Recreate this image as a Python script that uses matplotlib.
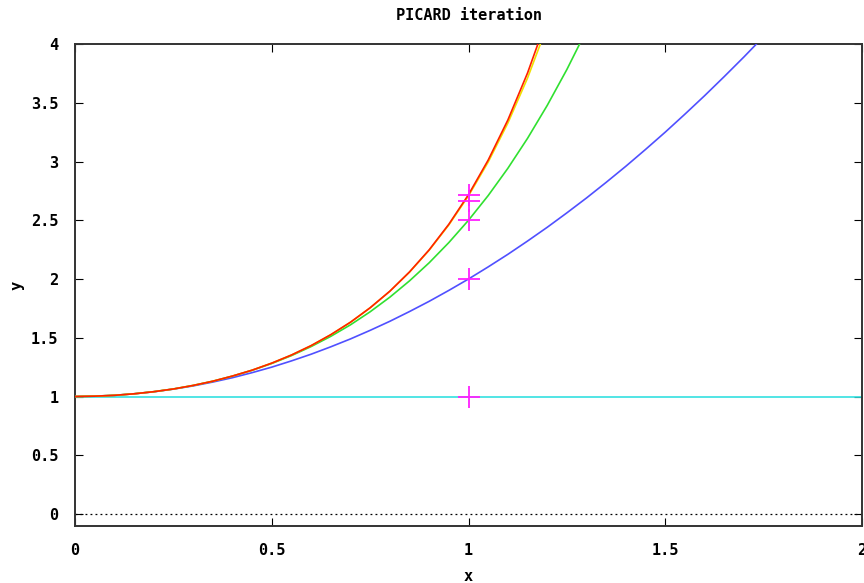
import matplotlib
matplotlib.use("Agg")
import matplotlib.pyplot as plt

# sample positions (x) and the curve values
x = [0.00, 0.05, 0.10, 0.15, 0.20, 0.25, 0.30, 0.35, 0.40, 0.45,
     0.50, 0.55, 0.60, 0.65, 0.70, 0.75, 0.80, 0.85, 0.90, 0.95,
     1.00, 1.05, 1.10, 1.15, 1.20, 1.25, 1.30, 1.35, 1.40, 1.45,
     1.50, 1.55, 1.60, 1.65, 1.70, 1.75]

iter0_x = [0.0, 2.0]
iter0_y = [1.0, 1.0]

iter1_y = [1.000, 1.003, 1.010, 1.023, 1.040, 1.063, 1.090, 1.123, 1.160, 1.203,
           1.250, 1.303, 1.360, 1.423, 1.490, 1.563, 1.640, 1.723, 1.810, 1.903,
           2.000, 2.103, 2.210, 2.323, 2.440, 2.563, 2.690, 2.823, 2.960, 3.103,
           3.250, 3.403, 3.560, 3.723, 3.890, 4.063]

iter2_y = [1.000, 1.003, 1.010, 1.023, 1.041, 1.064, 1.094, 1.130, 1.173, 1.223,
           1.281, 1.348, 1.425, 1.512, 1.610, 1.721, 1.845, 1.984, 2.138, 2.310,
           2.500, 2.710, 2.942, 3.197, 3.477, 3.783, 4.118]

iter3_y = [1.000, 1.003, 1.010, 1.023, 1.041, 1.064, 1.094, 1.130, 1.174, 1.224,
           1.284, 1.353, 1.433, 1.526, 1.632, 1.755, 1.895, 2.058, 2.245, 2.460,
           2.708, 2.995, 3.327, 3.710, 4.154]

iter4_y = [1.000, 1.003, 1.010, 1.023, 1.041, 1.064, 1.094, 1.130, 1.174, 1.224,
           1.284, 1.353, 1.433, 1.526, 1.632, 1.755, 1.896, 2.060, 2.248, 2.466,
           2.718, 3.012, 3.353, 3.753, 4.221]

marker_x = [1.0, 1.0, 1.0, 1.0, 1.0]
marker_y = [1.0, 2.0, 2.5, 2.667, 2.718]

x_ticks = [0, 0.5, 1, 1.5, 2]
x_tick_labels = ["0", "0.5", "1", "1.5", "2"]
y_ticks = [0, 0.5, 1, 1.5, 2, 2.5, 3, 3.5, 4]
y_tick_labels = ["0", "0.5", "1", "1.5", "2", "2.5", "3", "3.5", "4"]

font = {"family": "DejaVu Sans Mono", "weight": "bold", "size": 11}

fig = plt.figure(figsize=(8.64, 5.83), dpi=100)
ax = fig.add_axes([75/864, 1 - 526/583, (862 - 75)/864, (526 - 44)/583])

ax.axhline(0, color="black", lw=0.9, ls=(0, (1.5, 2.5)), zorder=1)

ax.plot(iter0_x, iter0_y, color="#33e0e0", lw=1.2, zorder=2)
ax.plot(x[:len(iter1_y)], iter1_y, color="#5050ff", lw=1.2, zorder=3)
ax.plot(x[:len(iter2_y)], iter2_y, color="#30e030", lw=1.2, zorder=4)
ax.plot(x[:len(iter3_y)], iter3_y, color="#f0e000", lw=1.2, zorder=5)
ax.plot(x[:len(iter4_y)], iter4_y, color="#ff2000", lw=1.2, zorder=6)
ax.plot(marker_x, marker_y, ls="none", marker="+", ms=16, mew=1.3,
        color="#ff20ff", zorder=7)

ax.set_xlim(0, 2)
ax.set_ylim(-0.102, 4)
ax.set_xticks(x_ticks)
ax.set_xticklabels(x_tick_labels, fontdict=font)
ax.set_yticks(y_ticks)
ax.set_yticklabels(y_tick_labels, fontdict=font)
ax.tick_params(direction="in", length=6, width=0.8, top=True, right=True,
               pad=12, colors="black")
for s in ax.spines.values():
    s.set_linewidth(1.4)
    s.set_color("#333333")

ax.set_title("PICARD iteration", fontdict=font, pad=17)
ax.set_xlabel("x", fontdict=font, labelpad=8)
ax.set_ylabel("y", fontdict=font, labelpad=5)

fig.savefig("out.png", dpi=100)
